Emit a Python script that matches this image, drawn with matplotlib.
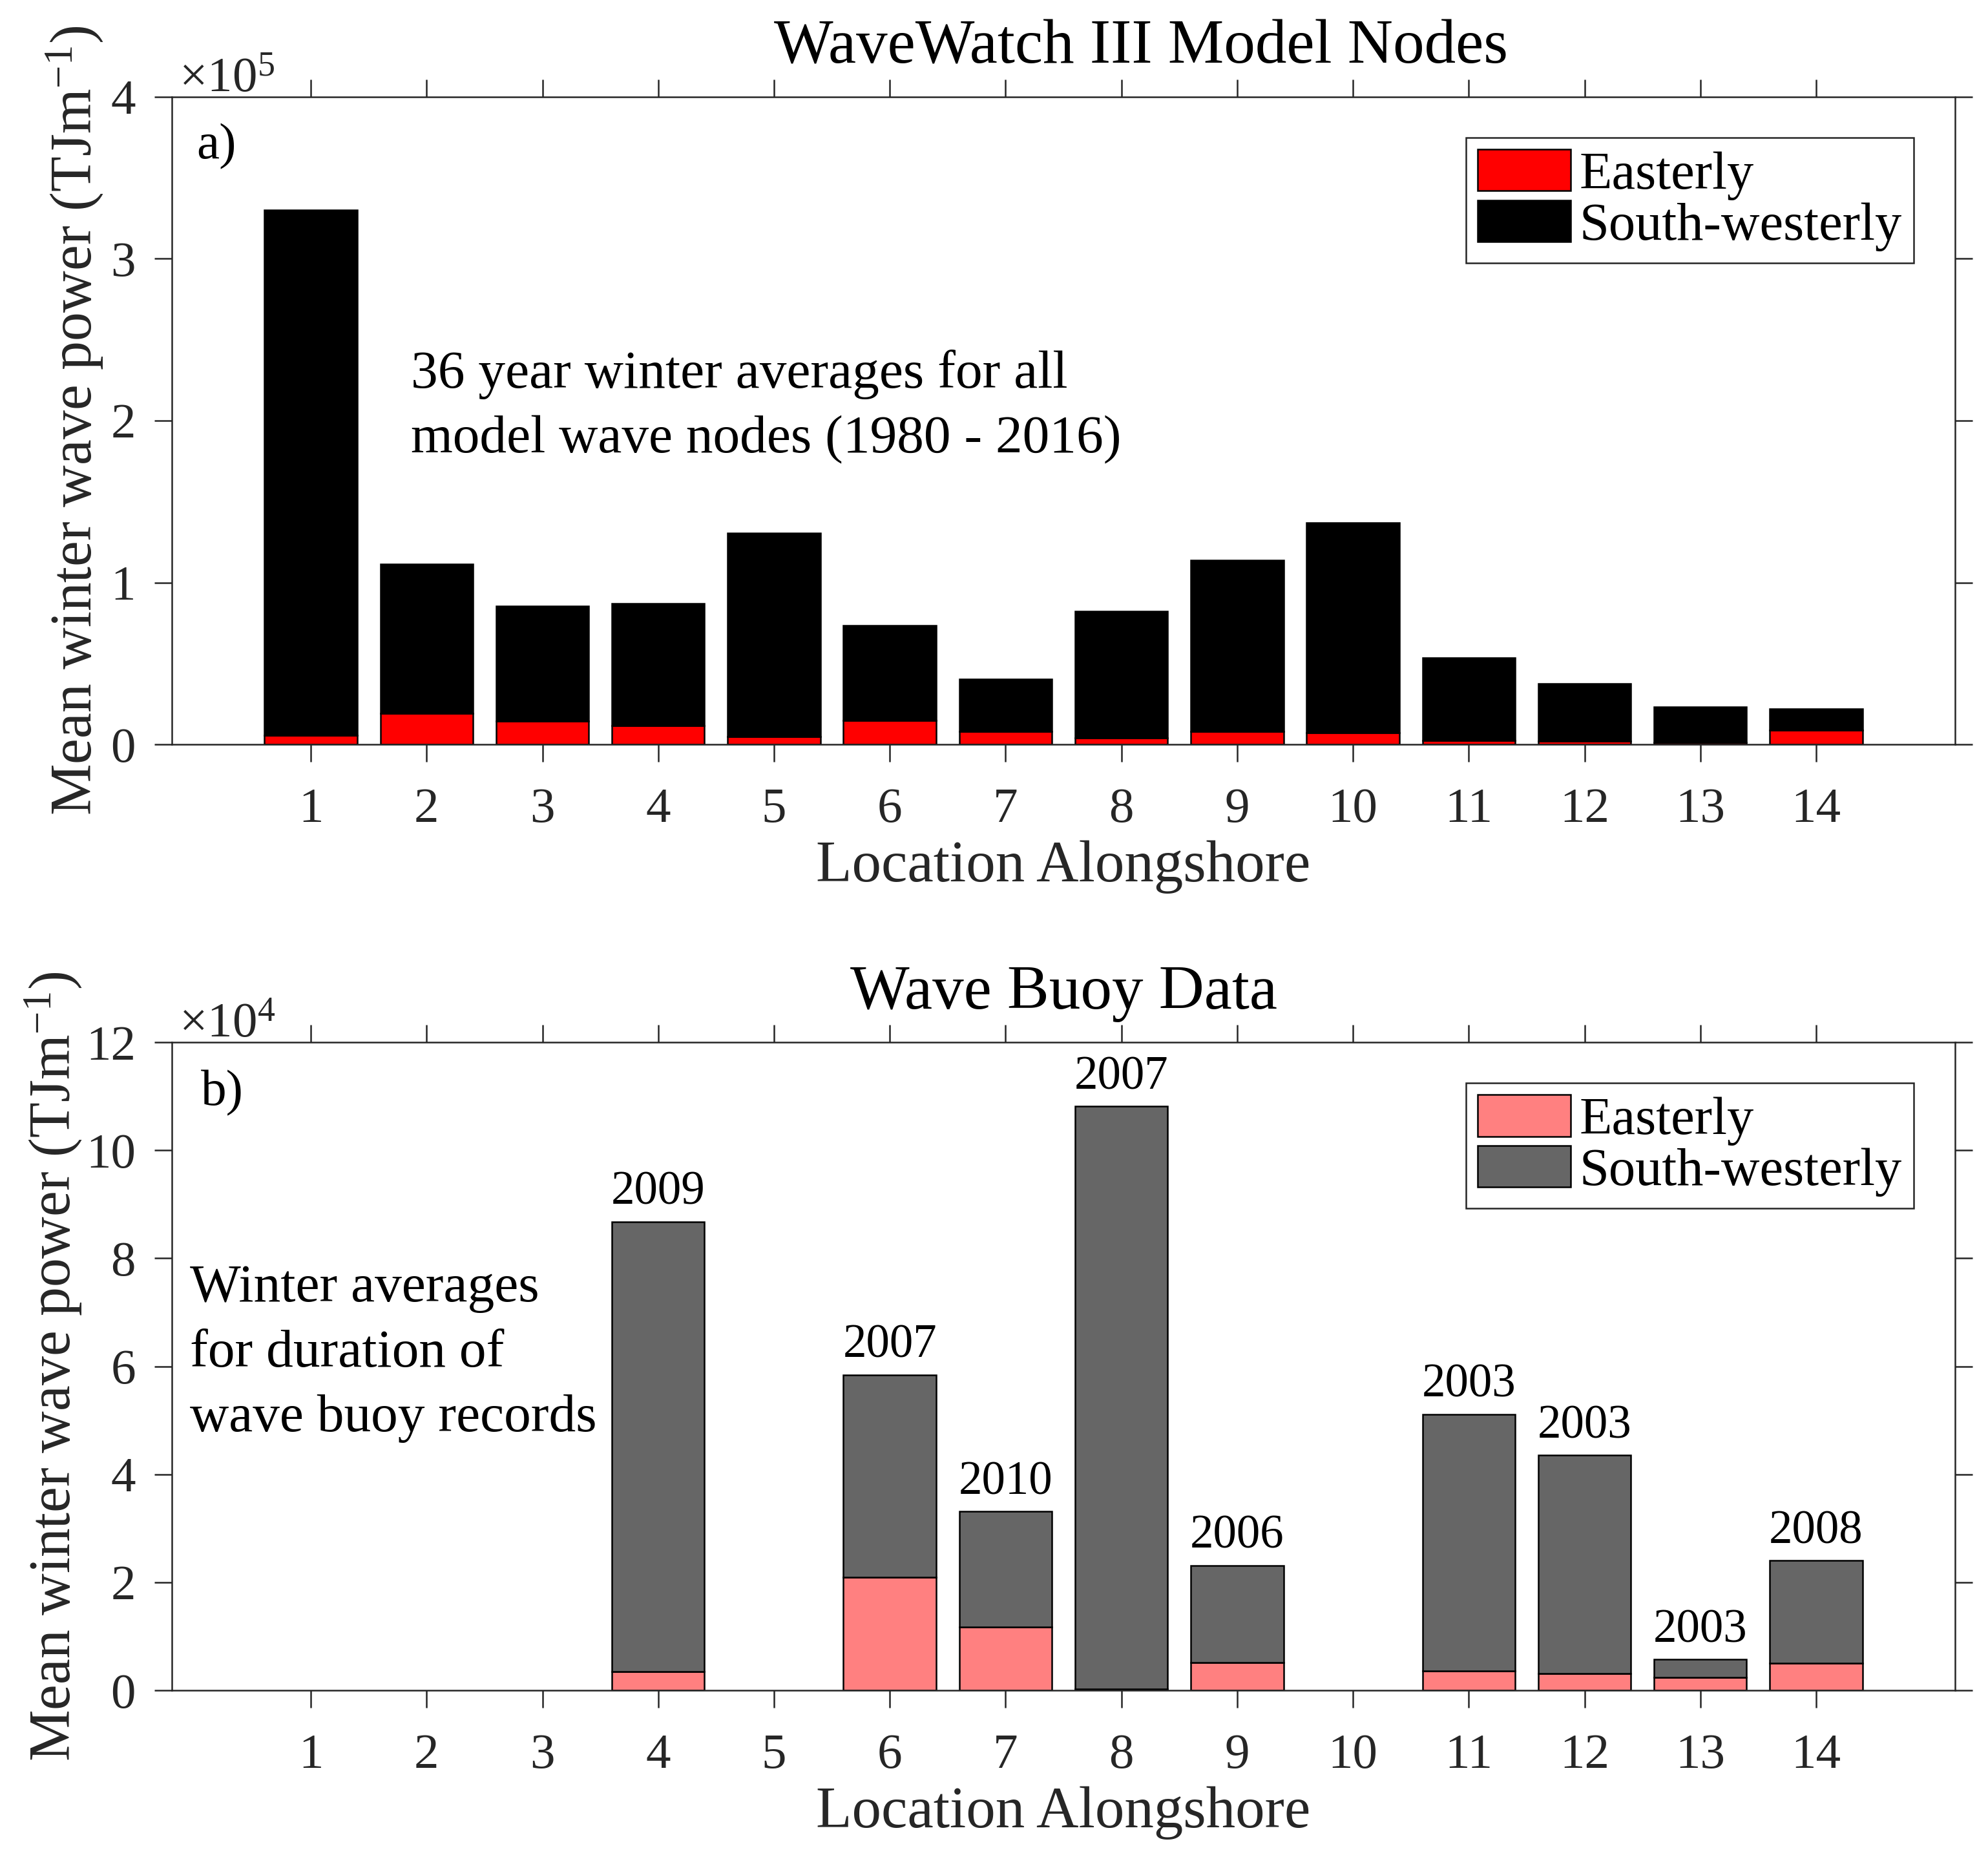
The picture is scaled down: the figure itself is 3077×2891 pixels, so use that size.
import numpy as np
import matplotlib
matplotlib.use("Agg")
import matplotlib.pyplot as plt

# ---------------- data ----------------
locations = list(range(1, 15))

# Panel a) WaveWatch III model nodes (TJ m^-1)
model_easterly = [5400, 19000, 14300, 11400, 4600, 14600, 7900,
                  3900, 7900, 7100, 2500, 1800, 1100, 8900]
model_southwesterly = [324600, 92400, 71100, 75700, 126100, 59000, 32500,
                       78200, 105700, 130000, 51100, 35700, 22100, 12900]

# Panel b) wave buoy data (TJ m^-1); NaN = no buoy record
buoy_easterly = [np.nan, np.nan, np.nan, 3500, np.nan, 20900, 11700,
                 200, 5100, np.nan, 3600, 3100, 2400, 5000]
buoy_southwesterly = [np.nan, np.nan, np.nan, 83300, np.nan, 37500, 21400,
                      107900, 18000, np.nan, 47500, 40400, 3300, 19000]
buoy_start_year = ['', '', '', '2009', '', '2007', '2010',
                   '2007', '2006', '', '2003', '2003', '2003', '2008']

series_labels = ['Easterly', 'South-westerly']
panel_titles = ['WaveWatch III Model Nodes', 'Wave Buoy Data']
panel_tags = ['a)', 'b)']
panel_notes = ['36 year winter averages for all\nmodel wave nodes (1980 - 2016)',
               'Winter averages\nfor duration of\nwave buoy records']
ylabel_text = 'Mean winter wave power (TJm$^{-1}$)'
xlabel_text = 'Location Alongshore'

# ---------------- style ----------------
plt.rcParams['font.family'] = ['Liberation Serif', 'DejaVu Serif']
plt.rcParams['mathtext.fontset'] = 'custom'
plt.rcParams['mathtext.rm'] = 'Liberation Serif'
plt.rcParams['mathtext.it'] = 'Liberation Serif:italic'
plt.rcParams['mathtext.bf'] = 'Liberation Serif:bold'

AX_COLOR = '#262626'
LW = 0.6
TICK_FS = 18.5

fig = plt.figure(figsize=(3077 / 300, 2891 / 300), dpi=300)
ax_a = fig.add_axes([0.08645, 0.60152, 0.89698, 0.34660])
ax_b = fig.add_axes([0.08645, 0.09512, 0.89698, 0.34694])

x = np.array(locations)


def style_axes(ax, yticks, ylim, exponent, ylabel_x):
    ax.set_xlim(-0.2, 15.2)
    ax.set_ylim(*ylim)
    ax.set_xticks(locations)
    ax.set_yticks(yticks)
    ax.set_yticklabels([str(v) for v in yticks])
    ax.tick_params(axis='both', which='both', direction='out', length=6.5,
                   width=LW, color=AX_COLOR, labelcolor=AX_COLOR,
                   labelsize=TICK_FS, top=True, right=True,
                   labeltop=False, labelright=False)
    ax.tick_params(axis='x', pad=9.5)
    ax.tick_params(axis='y', pad=7)
    for s in ax.spines.values():
        s.set_linewidth(LW)
        s.set_color(AX_COLOR)
    ax.text(0.004, 1.008, '×10$^{%d}$' % exponent, transform=ax.transAxes,
            ha='left', va='baseline', fontsize=TICK_FS, color=AX_COLOR)
    ax.set_xlabel(xlabel_text, fontsize=21.8, color=AX_COLOR, va='baseline')
    ax.xaxis.set_label_coords(0.5, -0.2116)
    ax.set_ylabel(ylabel_text, fontsize=21.5, color=AX_COLOR, va='baseline')
    ax.yaxis.set_label_coords(ylabel_x, 0.5)


def add_legend(ax, handles):
    leg = ax.legend(handles, series_labels, loc='upper right',
                    bbox_to_anchor=(0.9768, 0.937), borderaxespad=0,
                    fontsize=19.8, frameon=True, fancybox=False, shadow=False,
                    framealpha=1, edgecolor=AX_COLOR, borderpad=0.22,
                    handlelength=1.75, handleheight=0.82, handletextpad=0.16,
                    labelspacing=0.0)
    leg.get_frame().set_linewidth(LW)
    return leg


# ---------------- panel a ----------------
scale_a = 1e5
e_a = np.array(model_easterly) / scale_a
sw_a = np.array(model_southwesterly) / scale_a
b1 = ax_a.bar(x, e_a, width=0.8, color='#ff0000', edgecolor='black', linewidth=LW)
b2 = ax_a.bar(x, sw_a, width=0.8, bottom=e_a, color='black', edgecolor='black', linewidth=LW)
style_axes(ax_a, [0, 1, 2, 3, 4], (0, 4), 5, -0.045)
ax_a.set_title(panel_titles[0], fontsize=23.3, color='black', x=0.5435, y=1.0, pad=12.5)
ax_a.text(0.0138, 0.905, panel_tags[0], transform=ax_a.transAxes,
          fontsize=19, ha='left', va='baseline', color='black')
ax_a.text(0.134, 0.451, panel_notes[0], transform=ax_a.transAxes,
          fontsize=20, ha='left', va='baseline', color='black', linespacing=1.43)
add_legend(ax_a, [b1, b2])

# ---------------- panel b ----------------
scale_b = 1e4
e_b = np.array(buoy_easterly) / scale_b
sw_b = np.array(buoy_southwesterly) / scale_b
c1 = ax_b.bar(x, e_b, width=0.8, color='#ff8080', edgecolor='black', linewidth=LW)
c2 = ax_b.bar(x, sw_b, width=0.8, bottom=e_b, color='#666666', edgecolor='black', linewidth=LW)
style_axes(ax_b, [0, 2, 4, 6, 8, 10, 12], (0, 12), 4, -0.0572)
ax_b.set_title(panel_titles[1], fontsize=23.3, color='black', y=1.0, pad=12.5)
ax_b.text(0.0163, 0.903, panel_tags[1], transform=ax_b.transAxes,
          fontsize=19, ha='left', va='baseline', color='black')
ax_b.text(0.0101, 0.40, panel_notes[1], transform=ax_b.transAxes,
          fontsize=20, ha='left', va='baseline', color='black', linespacing=1.43)
for xi, top, yr in zip(x, e_b + sw_b, buoy_start_year):
    if yr and np.isfinite(top):
        ax_b.annotate(yr, xy=(xi, top), xytext=(0, 6.5), textcoords='offset points',
                      ha='center', va='baseline', fontsize=17.5, color='black')
add_legend(ax_b, [c1, c2])

fig.savefig('out.png', dpi=300)
